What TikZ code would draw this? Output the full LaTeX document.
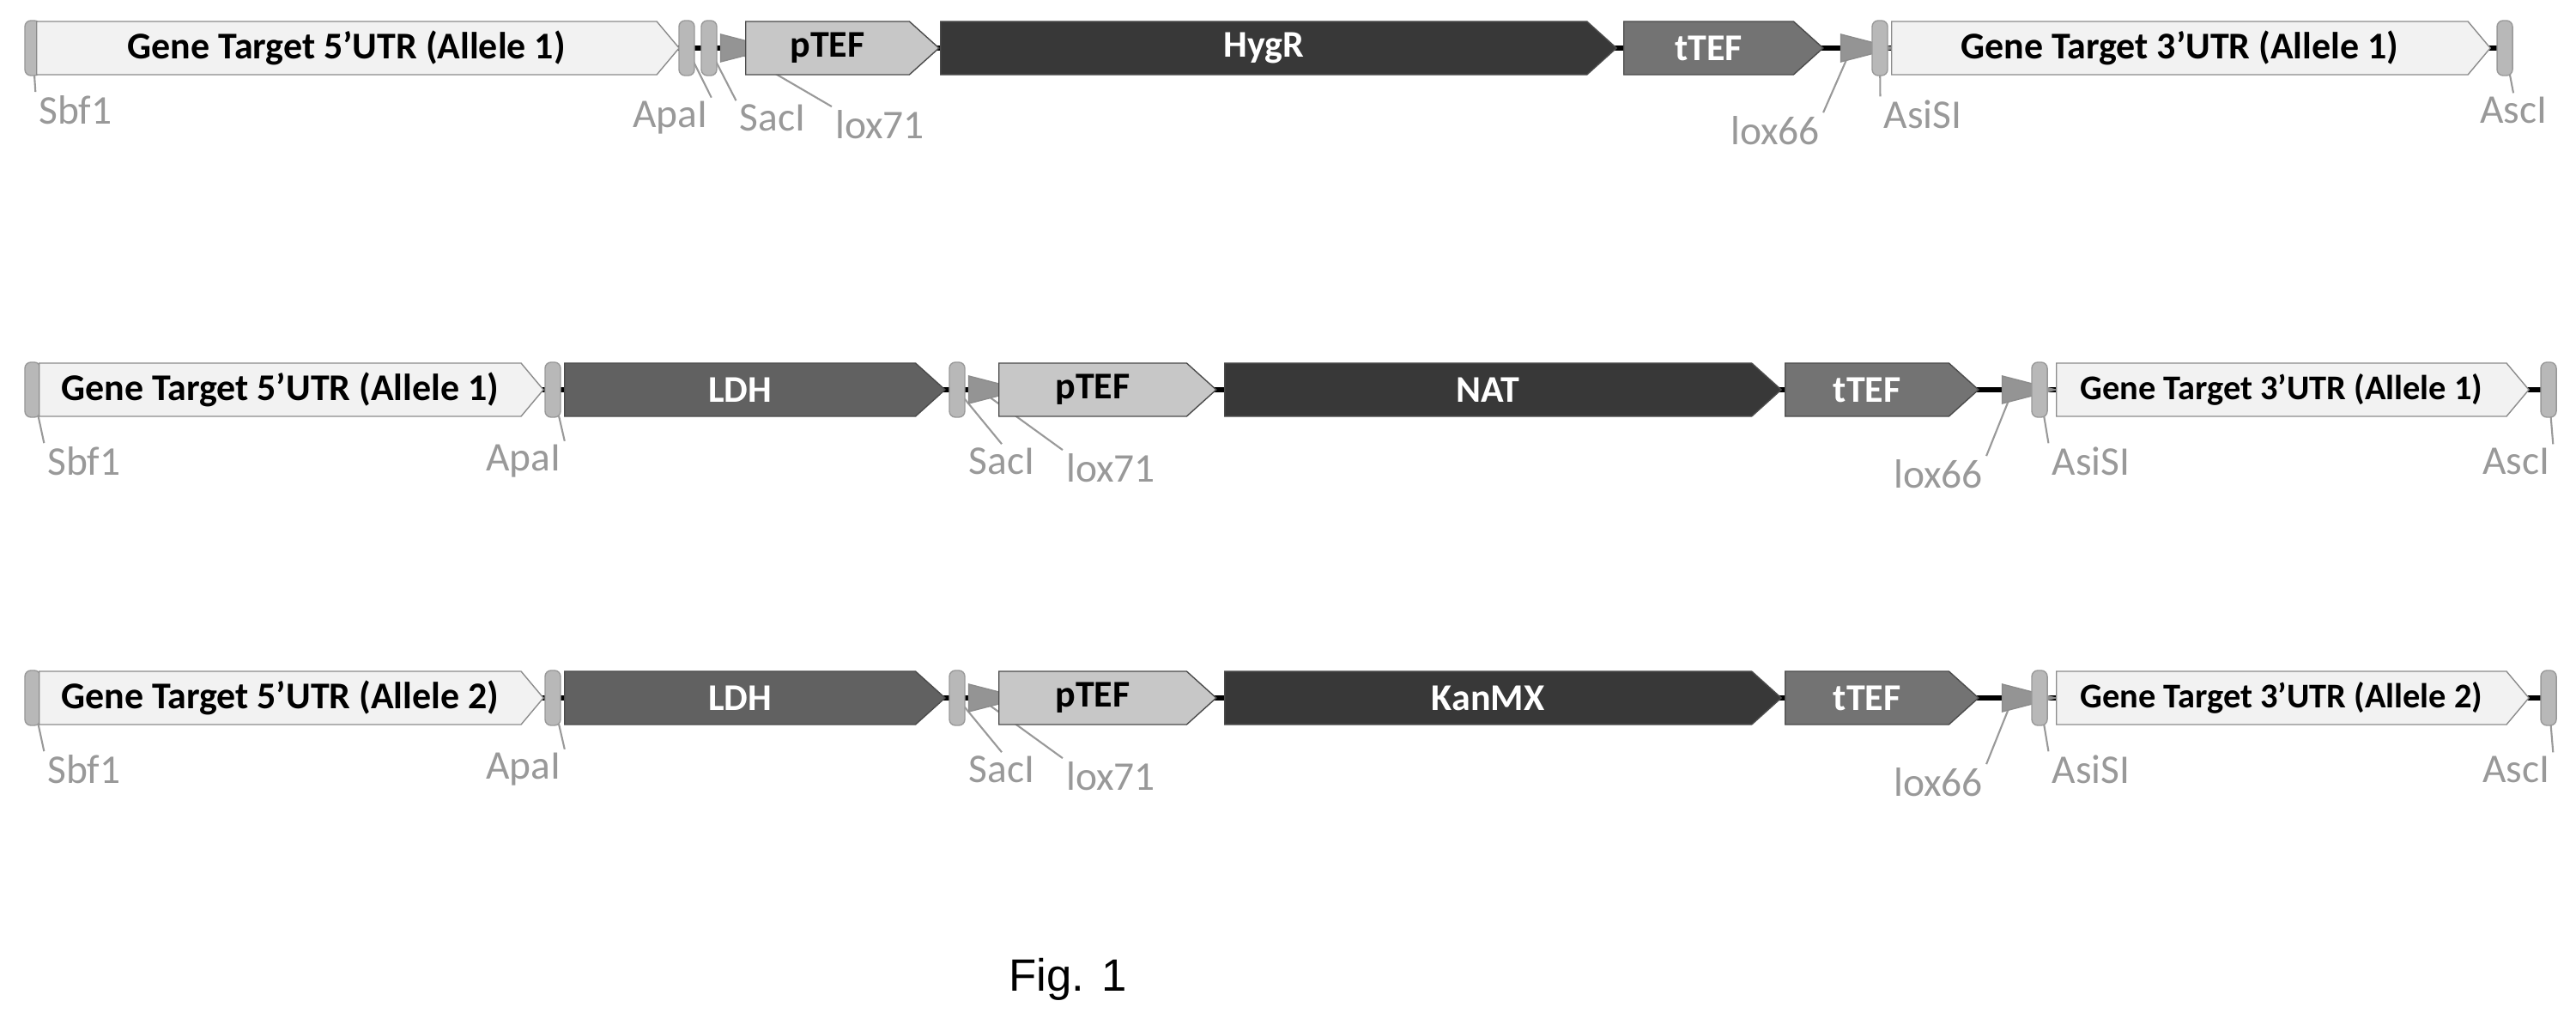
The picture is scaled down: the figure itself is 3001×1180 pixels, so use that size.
\documentclass[tikz,border=0pt]{standalone}
\usepackage{fontspec}
\setmainfont{Carlito}
\newfontfamily\figfont{Liberation Sans}
\usetikzlibrary{shapes.symbols,shapes.geometric,backgrounds}

\newcommand{\boxfont}{\fontsize{12.5}{13}\selectfont\bfseries}
\newcommand{\utrfont}{\fontsize{11.5}{12}\selectfont\bfseries}
\newcommand{\labelfont}{\fontsize{13.5}{14}\selectfont}

% one cassette row: prefix, centre y, allele, marker, marker width
\newcommand{\cassette}[5]{%
    \node[site] (#1sbf) at (38,#2) {};
    \node[utr,minimum width=5.87cm] (#1utrL) at (45,#2) {Gene Target 5’UTR (Allele #3)};
    \node[site] (#1apa) at (644,#2) {};
    \node[gene,fill=black!62,minimum width=4.43cm] (#1ldh) at (657,#2) {LDH};
    \node[site] (#1sac) at (1115,#2) {};
    \node[lox] (#1loxA) at (1141,#2) {};
    \node[gene,fill=black!22,text=black,minimum width=2.53cm] (#1ptef) at (1163,#2) {pTEF};
    \node[gene,fill=black!78,minimum width=#5cm] (#1mark) at (1426,#2) {#4};
    \node[gene,fill=black!55,minimum width=2.25cm] (#1ttef) at (2079,#2) {tTEF};
    \node[lox] (#1loxB) at (2345,#2) {};
    \node[site] (#1asi) at (2376,#2) {};
    \node[utr,minimum width=5.50cm,font=\utrfont] (#1utrR) at (2395,#2) {Gene Target 3’UTR (Allele #3)};
    \node[site] (#1asc) at (2969,#2) {};
    % labels
    \node[sitelabel] (#1Lsbf) at (98,#2+83) {Sbf1};
    \node[sitelabel] (#1Lapa) at (610,#2+83) {ApaI};
    \node[sitelabel] (#1Lsac) at (1167,#2+83) {SacI};
    \node[sitelabel] (#1LloxA) at (1294,#2+91) {lox71};
    \node[sitelabel] (#1LloxB) at (2258,#2+98) {lox66};
    \node[sitelabel] (#1Lasi) at (2436,#2+83) {AsiSI};
    \node[sitelabel] (#1Lasc) at (2931,#2+83) {AscI};
    \begin{scope}[on background layer]
        \draw[backbone] (#1sbf.center) -- (#1asc.center);
        \draw[leader] (#1sbf.center) -- (#1Lsbf.north west);
        \draw[leader] (#1apa.center) -- (#1Lapa.north east);
        \draw[leader] (#1sac.center) -- (#1Lsac.north);
        \draw[leader] (#1loxA.center) -- (#1LloxA.north west);
        \draw[leader] (#1loxB.center) -- (#1LloxB.north east);
        \draw[leader] (#1asi.center) -- (#1Lasi.north west);
        \draw[leader] (#1asc.center) -- (#1Lasc.north east);
    \end{scope}
}

\begin{document}
\begin{tikzpicture}[
    x=0.01cm, y=-0.01cm,
    utr/.style={signal,signal to=east,signal pointer angle=100,draw=black!45,fill=black!5,
        minimum height=0.62cm,inner sep=0pt,anchor=west,font=\boxfont},
    gene/.style={signal,signal to=east,signal pointer angle=84,draw=black!70,text=white,
        minimum height=0.62cm,inner sep=0pt,anchor=west,font=\boxfont},
    site/.style={draw=black!40,fill=black!28,rounded corners=2pt,minimum width=0.18cm,
        minimum height=0.64cm,inner sep=0pt},
    lox/.style={isosceles triangle,isosceles triangle stretches,draw=black!45,fill=black!42,
        minimum width=0.32cm,minimum height=0.62cm,inner sep=0pt},
    sitelabel/.style={text=black!40,font=\labelfont,inner sep=1pt},
    leader/.style={draw=black!40,line width=0.6pt},
    backbone/.style={line width=0.06cm,black}
    ]
    \useasboundingbox (0,0) rectangle (3001,1180);
    % row 1
    \node[site] (sbf) at (38,56) {};
    \node[utr,minimum width=7.48cm] (utrL) at (42,56) {Gene Target 5’UTR (Allele 1)};
    \node[site] (apa) at (800,56) {};
    \node[site] (sac) at (826,56) {};
    \node[lox] (loxA) at (852,56) {};
    \node[gene,fill=black!22,text=black,minimum width=2.25cm] (ptef) at (868,56) {pTEF};
    \node[gene,fill=black!78,minimum width=7.87cm] (hyg) at (1095,56) {HygR};
    \node[gene,fill=black!55,minimum width=2.32cm] (ttef) at (1891,56) {tTEF};
    \node[lox] (loxB) at (2157,56) {};
    \node[site] (asi) at (2190,56) {};
    \node[utr,minimum width=6.97cm] (utrR) at (2203,56) {Gene Target 3’UTR (Allele 1)};
    \node[site] (asc) at (2918,56) {};
    % row 1 labels
    \node[sitelabel] (Lsbf) at (88,128) {Sbf1};
    \node[sitelabel] (Lapa) at (781,137) {ApaI};
    \node[sitelabel] (Lsac) at (900,137) {SacI};
    \node[sitelabel] (LloxA) at (1025,145) {lox71};
    \node[sitelabel] (LloxB) at (2068,152) {lox66};
    \node[sitelabel] (Lasi) at (2240,133) {AsiSI};
    \node[sitelabel] (Lasc) at (2928,128) {AscI};
    \begin{scope}[on background layer]
        \draw[backbone] (sbf.center) -- (asc.center);
        \draw[leader] (sbf.center) -- (Lsbf.north west);
        \draw[leader] (apa.center) -- (Lapa.north east);
        \draw[leader] (sac.center) -- (Lsac.north west);
        \draw[leader] (loxA.center) -- (LloxA.north west);
        \draw[leader] (loxB.center) -- (LloxB.north east);
        \draw[leader] (asi.center) -- (Lasi.north west);
        \draw[leader] (asc.center) -- (Lasc.north);
    \end{scope}
    % row 2
    \cassette{b}{454}{1}{NAT}{6.48}
    % row 3
    \cassette{c}{813}{2}{KanMX}{6.48}
    % caption
    \node[font=\figfont\fontsize{15}{16}\selectfont] (fig) at (1244,1141) {Fig. 1};
\end{tikzpicture}
\end{document}
